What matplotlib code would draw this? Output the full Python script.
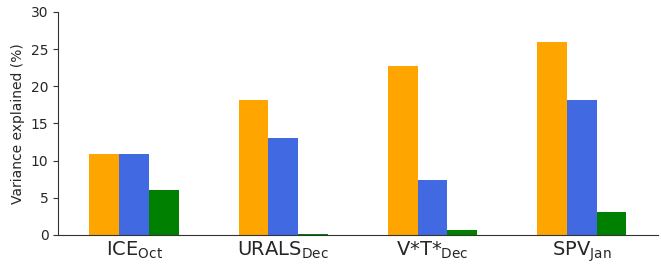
import numpy as np
import matplotlib.pyplot as plt

# data
groups = [r'ICE$_{\mathrm{Oct}}$', r'URALS$_{\mathrm{Dec}}$',
          r'V*T*$_{\mathrm{Dec}}$', r'SPV$_{\mathrm{Jan}}$']
series_a = [10.9, 18.2, 22.7, 25.9]   # orange
series_b = [10.9, 13.1, 7.4, 18.2]    # blue
series_c = [6.1, 0.15, 0.6, 3.1]      # green

fig = plt.figure(figsize=(6.61, 2.64), dpi=100)
ax = fig.add_axes([0.088, 0.11, 0.907, 0.845])

x = np.arange(len(groups))
w = 0.2
ax.bar(x - w, series_a, w, color='orange')
ax.bar(x, series_b, w, color='royalblue')
ax.bar(x + w, series_c, w, color='green')

ax.set_xlim(-0.51, 3.51)
ax.set_ylim(0, 30)
ax.set_xticks(x)
ax.set_xticklabels(groups, fontsize=14, color='#262626')
ax.tick_params(axis='x', length=0)
ax.tick_params(axis='y', labelsize=10, labelcolor='#262626', color='#333333')
ax.set_ylabel('Variance explained (%)', fontsize=10, color='#262626')
for s in ['top', 'right']:
    ax.spines[s].set_visible(False)
for s in ['left', 'bottom']:
    ax.spines[s].set_color('#333333')

fig.savefig('out.png', dpi=100)
